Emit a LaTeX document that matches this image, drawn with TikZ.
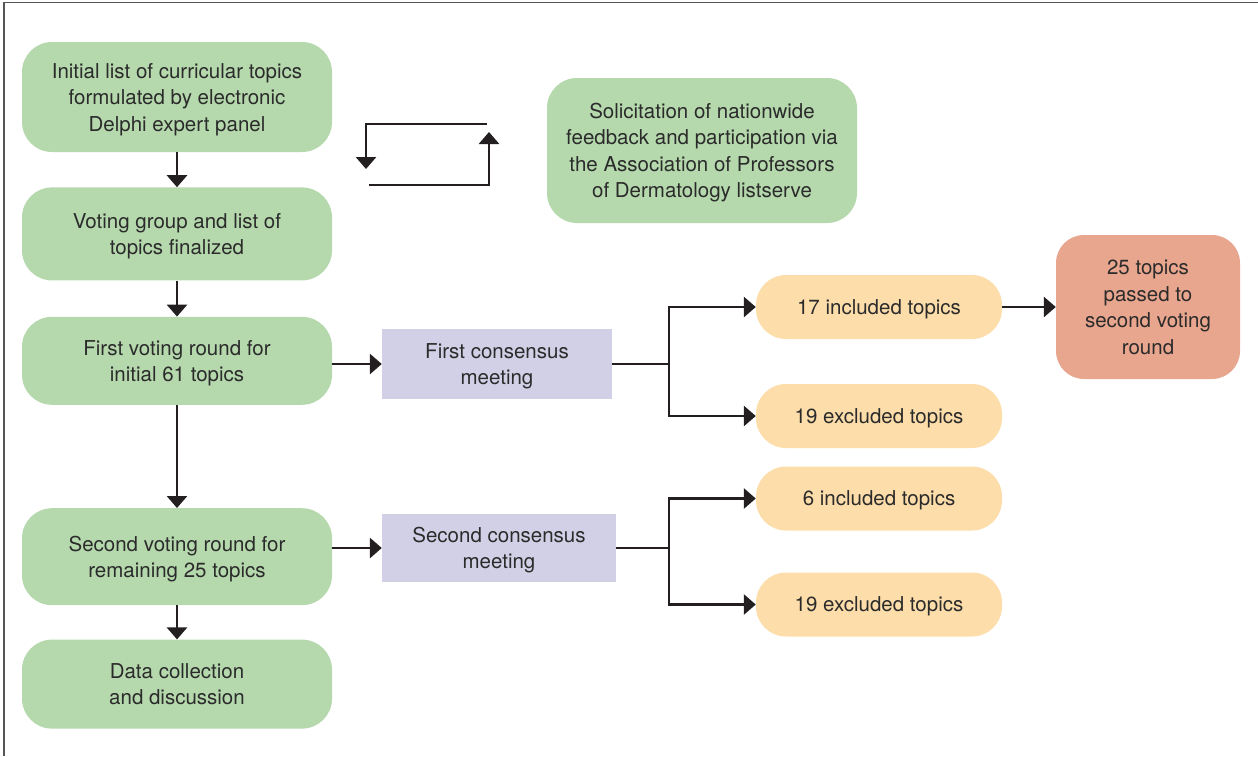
\documentclass[tikz,border=0pt]{standalone}
\usepackage{fontspec}
\setmainfont{TeX Gyre Heros}
\usepackage{tikz}
\usetikzlibrary{arrows.meta, positioning, calc}

\definecolor{boxgreen}{HTML}{B5D9AD}
\definecolor{boxlilac}{HTML}{D2D0E6}
\definecolor{boxpeach}{HTML}{FDDDAA}
\definecolor{boxsalmon}{HTML}{E9A68E}
\definecolor{inkgray}{HTML}{2B2B2B}
\definecolor{linegray}{HTML}{231F20}
\definecolor{framegray}{HTML}{555555}

\begin{document}
\begin{tikzpicture}[
  x=1pt, y=-1pt,
  >={Triangle[width=20pt,length=12pt]},
  basebox/.style={rectangle, inner sep=0pt, text=inkgray, align=center, text depth=0pt, font=\fontsize{20.5}{26.5}\selectfont},
  greenbox/.style={basebox, fill=boxgreen, rounded corners=30pt, minimum width=310pt},
  meetbox/.style={basebox, fill=boxlilac, minimum height=70pt},
  topicbox/.style={basebox, fill=boxpeach, rounded corners=30pt, minimum width=246pt, minimum height=64pt},
  passbox/.style={basebox, fill=boxsalmon, rounded corners=28pt, minimum width=184pt, minimum height=144pt},
  flow/.style={->, line width=2.8pt, draw=linegray},
  loopline/.style={line width=2.8pt, draw=linegray}
]
\useasboundingbox (0,0) rectangle (1258,756);

% frame
\draw[framegray, line width=1.5pt] (4,756) -- (4,2.5) -- (1258,2.5);

% main column
\node[greenbox, minimum height=110pt] (Initial) at (177,97)
  {Initial list of curricular topics\\formulated by electronic\\Delphi expert panel};
\node[greenbox, minimum height=93pt] (Final) [below=35pt of Initial]
  {Voting group and list of\\topics finalized};
\node[greenbox, minimum height=88pt] (VoteA) [below=36pt of Final]
  {First voting round for\\initial 61 topics};
\node[greenbox, minimum height=97pt] (VoteB) [below=103pt of VoteA]
  {Second voting round for\\remaining 25 topics};
\node[greenbox, minimum height=89pt] (Data) [below=34pt of VoteB]
  {Data collection\\and discussion};

% nationwide feedback
\node[greenbox, minimum height=145pt] (Solicit) at (702,150.5)
  {Solicitation of nationwide\\feedback and participation via\\the Association of Professors\\of Dermatology listserve};

% consensus meetings
\node[meetbox, minimum width=230pt] (MeetA) at (497,364) {First consensus\\meeting};
\node[meetbox, minimum width=234pt, minimum height=68pt] (MeetB) at (499,548) {Second consensus\\meeting};

% outcomes
\node[topicbox] (IncA) at (879,307) {17 included topics};
\node[topicbox] (ExcA) at (879,416) {19 excluded topics};
\node[topicbox] (IncB) at (879,498.5) {6 included topics};
\node[topicbox] (ExcB) at (879,604.5) {19 excluded topics};
\node[passbox] (Pass) at (1148,307) {25 topics\\passed to\\second voting\\round};

% branch points
\coordinate (SplitA) at (669,364);
\coordinate (SplitB) at (669,548);

% feedback loop
\coordinate (LoopA) at (487,124);
\coordinate (LoopB) at (366,169);
\coordinate (LoopC) at (369,185);
\coordinate (LoopD) at (489,132);

% flows
\draw[flow] (Initial) -- (Final);
\draw[flow] (Final) -- (VoteA);
\draw[flow] (VoteA) -- (VoteB);
\draw[flow] (VoteB) -- (Data);

\draw[flow] (MeetA.west -| VoteA.east) -- (MeetA.west);
\draw[loopline] (MeetA.east) -- (SplitA);
\draw[flow] (SplitA) |- (IncA.west);
\draw[flow] (SplitA) |- (ExcA.west);
\draw[flow] (IncA) -- (Pass);

\draw[flow] (MeetB.west -| VoteB.east) -- (MeetB.west);
\draw[loopline] (MeetB.east) -- (SplitB);
\draw[flow] (SplitB) |- (IncB.west);
\draw[flow] (SplitB) |- (ExcB.west);

\draw[flow] (LoopA) -| (LoopB);
\draw[flow] (LoopC) -| (LoopD);

\end{tikzpicture}
\end{document}
